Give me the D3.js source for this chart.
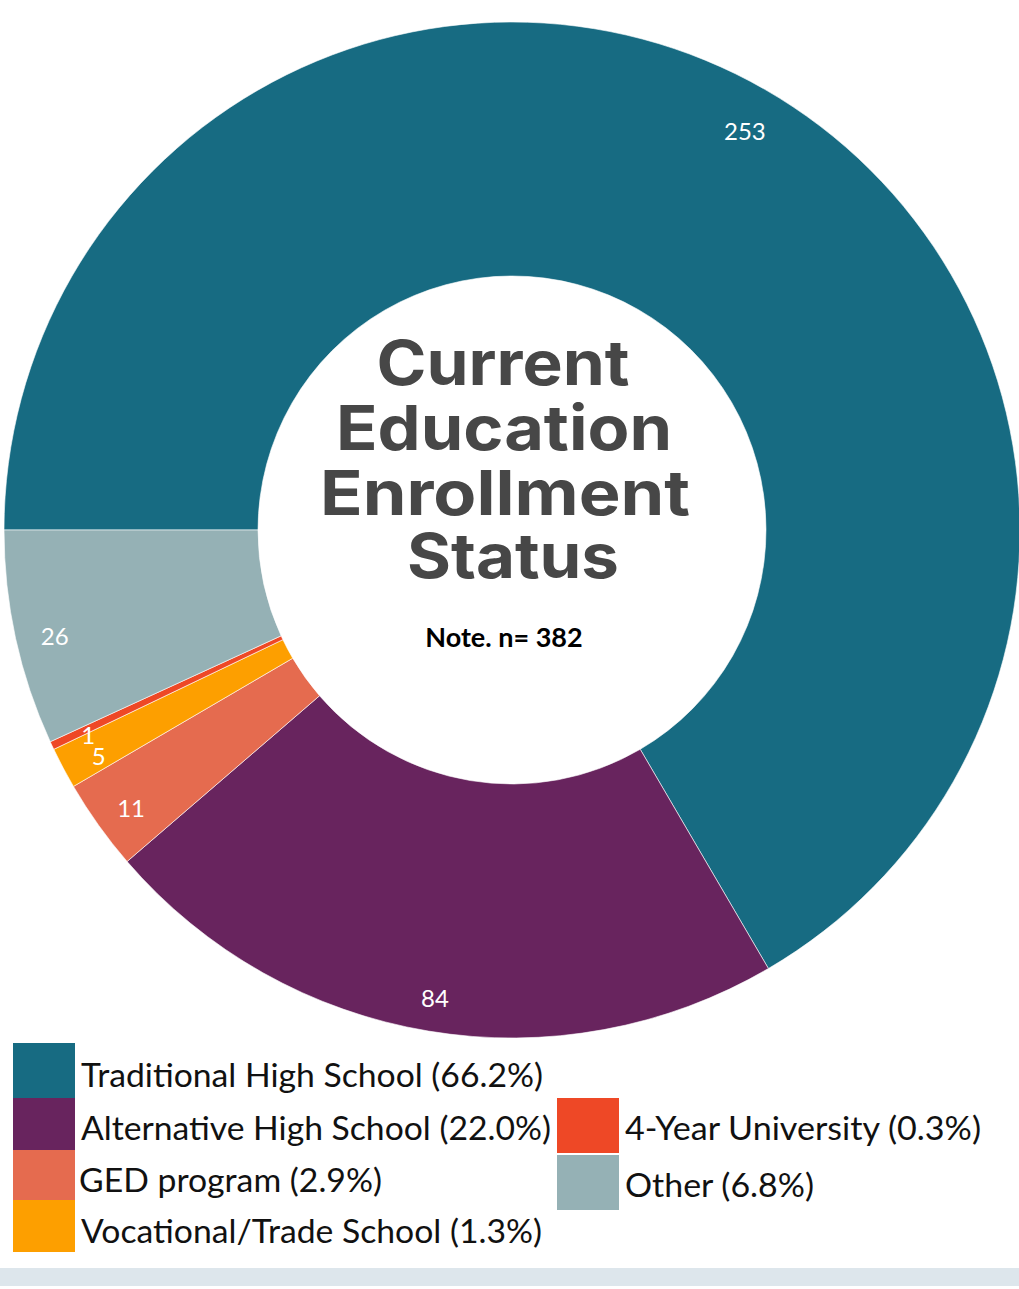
<!DOCTYPE html>
<html><head><meta charset="utf-8">
<script src="https://cdn.jsdelivr.net/npm/d3@7"></script>
<style>body{margin:0;background:#fff}svg{display:block}</style>
</head><body>
<svg id="c" width="1019" height="1289"></svg>
<script>
const categories = ["Traditional High School","Alternative High School","GED program","Vocational/Trade School","4-Year University","Other"];
const values = [253, 84, 11, 5, 1, 26];
const percents = ["66.2%","22.0%","2.9%","1.3%","0.3%","6.8%"];
const colors = ["#176b82","#68245e","#e56b4f","#fd9f00","#ee4826","#95b1b5"];
const titleLines = ["Current","Education","Enrollment","Status"];
const note = "Note. n= 382";

const svg = d3.select("#c");
const cx = 512, cy = 530, R = 508, r0 = 254;
const g = svg.append("g").attr("transform", `translate(${cx},${cy})`);
const pie = d3.pie().sort(null).value(d => d.v).startAngle(-Math.PI/2).endAngle(1.5*Math.PI);
const data = categories.map((c,i)=>({c, v: values[i], col: colors[i]}));
const arcs = pie(data);
const arc = d3.arc().innerRadius(r0).outerRadius(R);
g.selectAll("path").data(arcs).join("path")
  .attr("d", arc).attr("fill", d => d.data.col)
  .attr("stroke", "#fff").attr("stroke-width", 0.6);

const labArc = d3.arc().innerRadius(468).outerRadius(468);
g.selectAll("text.lab").data(arcs).join("text").attr("class","lab")
  .attr("x", d => labArc.centroid(d)[0])
  .attr("y", d => labArc.centroid(d)[1] + 6)
  .attr("text-anchor","middle").attr("dominant-baseline","central")
  .attr("fill","#fff").style("font-family","Lato").style("font-size","24px")
  .text(d => d.data.v);

// title
const tl = svg.append("g");
const tY = [385, 450, 515, 578], tX = [503, 504, 505, 513], tW = [253, 336, 370, 212];
titleLines.forEach((t,i) => {
  tl.append("text").attr("x", tX[i]).attr("y", tY[i]).attr("text-anchor","middle")
    .attr("textLength", tW[i]).attr("lengthAdjust","spacingAndGlyphs")
    .style("font-family","Inter, 'Open Sans', sans-serif").style("font-weight","700")
    .style("font-size","62px").attr("fill","#474747").text(t);
});
svg.append("text").attr("x",504).attr("y",647).attr("text-anchor","middle")
  .style("font-family","Lato").style("font-weight","700").style("font-size","27px")
  .attr("fill","#000").text(note);

// legend
const leg = [
  {i:0, x:13, y:1043, h:55, ty:1087, tw:462},
  {i:1, x:13, y:1098, h:52, ty:1140, tw:470},
  {i:2, x:13, y:1150, h:50, ty:1192, tw:303},
  {i:3, x:13, y:1200, h:52, ty:1243, tw:461},
  {i:4, x:557, y:1098, h:55, ty:1140, tw:356},
  {i:5, x:557, y:1155, h:55, ty:1197, tw:189}
];
leg.forEach(L => {
  svg.append("rect").attr("x",L.x).attr("y",L.y).attr("width",62).attr("height",L.h).attr("fill",colors[L.i]);
  svg.append("text").attr("x",L.x+68 - (L.i===2?2:0)).attr("y",L.ty)
    .attr("textLength", L.tw).attr("lengthAdjust","spacingAndGlyphs")
    .style("font-family","Lato").style("font-size","33px").attr("fill","#111")
    .text(`${categories[L.i]} (${percents[L.i]})`);
});
svg.append("rect").attr("x",0).attr("y",1268).attr("width",1019).attr("height",18).attr("fill","#dde6ec");
</script>
</body></html>
